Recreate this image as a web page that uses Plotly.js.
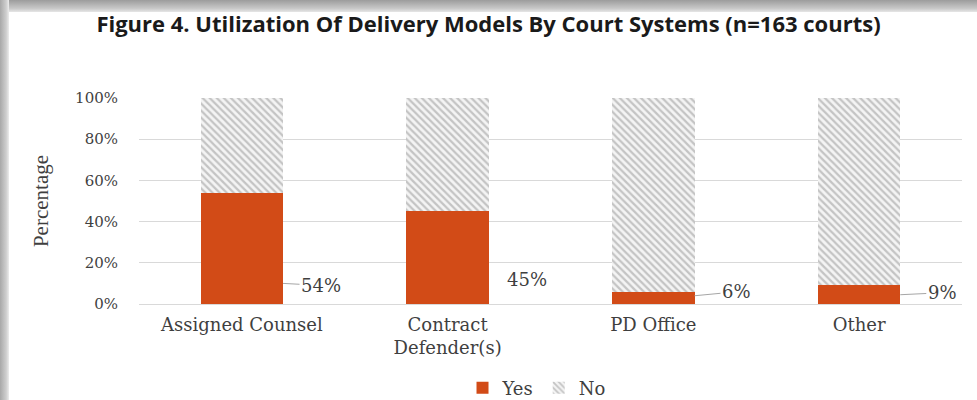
<!DOCTYPE html>
<html>
<head>
<meta charset="utf-8">
<script src="https://cdn.plot.ly/plotly-3.0.1.min.js"></script>
<style>
  html, body { margin:0; padding:0; background:#fff; }
  #wrap { position:relative; width:977px; height:400px; overflow:hidden; }
  #chart { position:absolute; left:0; top:0; width:977px; height:400px; }
  #shTop { position:absolute; left:0; top:0; width:977px; height:12px;
           background:linear-gradient(to bottom, #9c9c9c, #c8c8c8 70%, #e6e6e6); pointer-events:none; }
  #shLeft { position:absolute; left:0; top:0; width:9px; height:400px;
            background:linear-gradient(to right, #a8a8a8, #cfcfcf 70%, #ececec); pointer-events:none; }
</style>
</head>
<body>
<div id="wrap">
  <div id="chart"></div>
  <div id="shTop"></div>
  <div id="shLeft"></div>
</div>
<script>
// ---- data ----
const categories = ["Assigned Counsel", "Contract<br>Defender(s)", "PD Office", "Other"];
const yesValues = [54, 45, 6, 9];
const noValues = [46, 55, 94, 91];
const seriesNames = ["Yes", "No"];
const yTickValues = [0, 20, 40, 60, 80, 100];
const yTickLabels = ["0%", "20%", "40%", "60%", "80%", "100%"];

// label placement (style, not data)
const labelPos = [
  {dx: 0.2, y: 10, ax: 38, ay: 2, arrow: true},
  {dx: 0.2, y: 12, ax: 38, ay: 0, arrow: false},
  {dx: 0.2, y: 4, ax: 42, ay: -4, arrow: true},
  {dx: 0.2, y: 4.5, ax: 42, ay: -2, arrow: true}
];

const serif = "DejaVu Serif, serif";
const textCol = "#3f3f3f";

const traces = [
  {
    type: "bar", name: seriesNames[0], x: categories, y: yesValues,
    marker: {color: "#d24b17"}, width: 0.4, hoverinfo: "skip"
  },
  {
    type: "bar", name: seriesNames[1], x: categories, y: noValues,
    marker: {color: "#ffffff", pattern: {shape: "\\", fgcolor: "#c4c4c4", bgcolor: "#f4f4f4", size: 5, solidity: 0.45}},
    width: 0.4, hoverinfo: "skip"
  }
];

const annotations = yesValues.map((v, i) => {
  const p = labelPos[i];
  return {
    x: i + p.dx, y: p.y, xref: "x", yref: "y",
    text: v + "%", showarrow: true, arrowhead: 0, arrowwidth: 1,
    arrowcolor: p.arrow ? "#a6a6a6" : "rgba(0,0,0,0)",
    ax: p.ax, ay: p.ay, standoff: 0,
    xanchor: "center", yanchor: "middle",
    font: {family: serif, size: 18, color: textCol}
  };
});

const layout = {
  width: 977, height: 400,
  margin: {l: 139, r: 15, t: 98, b: 96},
  paper_bgcolor: "#ffffff", plot_bgcolor: "#ffffff",
  barmode: "stack",
  title: {
    text: "<b>Figure 4. Utilization Of Delivery Models By Court Systems (n=163 courts)</b>",
    x: 0.5, xanchor: "center", y: 0.94, yanchor: "middle",
    font: {family: "Open Sans, sans-serif", size: 22, color: "#1a1a1a"}
  },
  xaxis: {
    type: "category", showgrid: false, showline: false, ticks: "",
    automargin: false, ticklabelstandoff: 8,
    tickfont: {family: serif, size: 18, color: textCol},
    fixedrange: true
  },
  yaxis: {
    range: [0, 100], tickvals: yTickValues, ticktext: yTickLabels,
    showgrid: true, gridcolor: "#d9d9d9", gridwidth: 1,
    zeroline: true, zerolinecolor: "#d9d9d9", showline: false, ticks: "",
    ticklabelstandoff: 20, automargin: false,
    tickfont: {family: serif, size: 15, color: textCol},
    title: {text: "Percentage", standoff: 20, font: {family: "Liberation Serif, serif", size: 21, color: textCol}},
    fixedrange: true
  },
  showlegend: true,
  legend: {
    orientation: "h", x: 0.483, xanchor: "center",
    yref: "container", y: 0.03, yanchor: "middle",
    traceorder: "normal",
    font: {family: serif, size: 18, color: textCol},
    itemwidth: 30
  },
  annotations: annotations
};

Plotly.newPlot("chart", traces, layout, {displayModeBar: false, staticPlot: true});
</script>
</body>
</html>
